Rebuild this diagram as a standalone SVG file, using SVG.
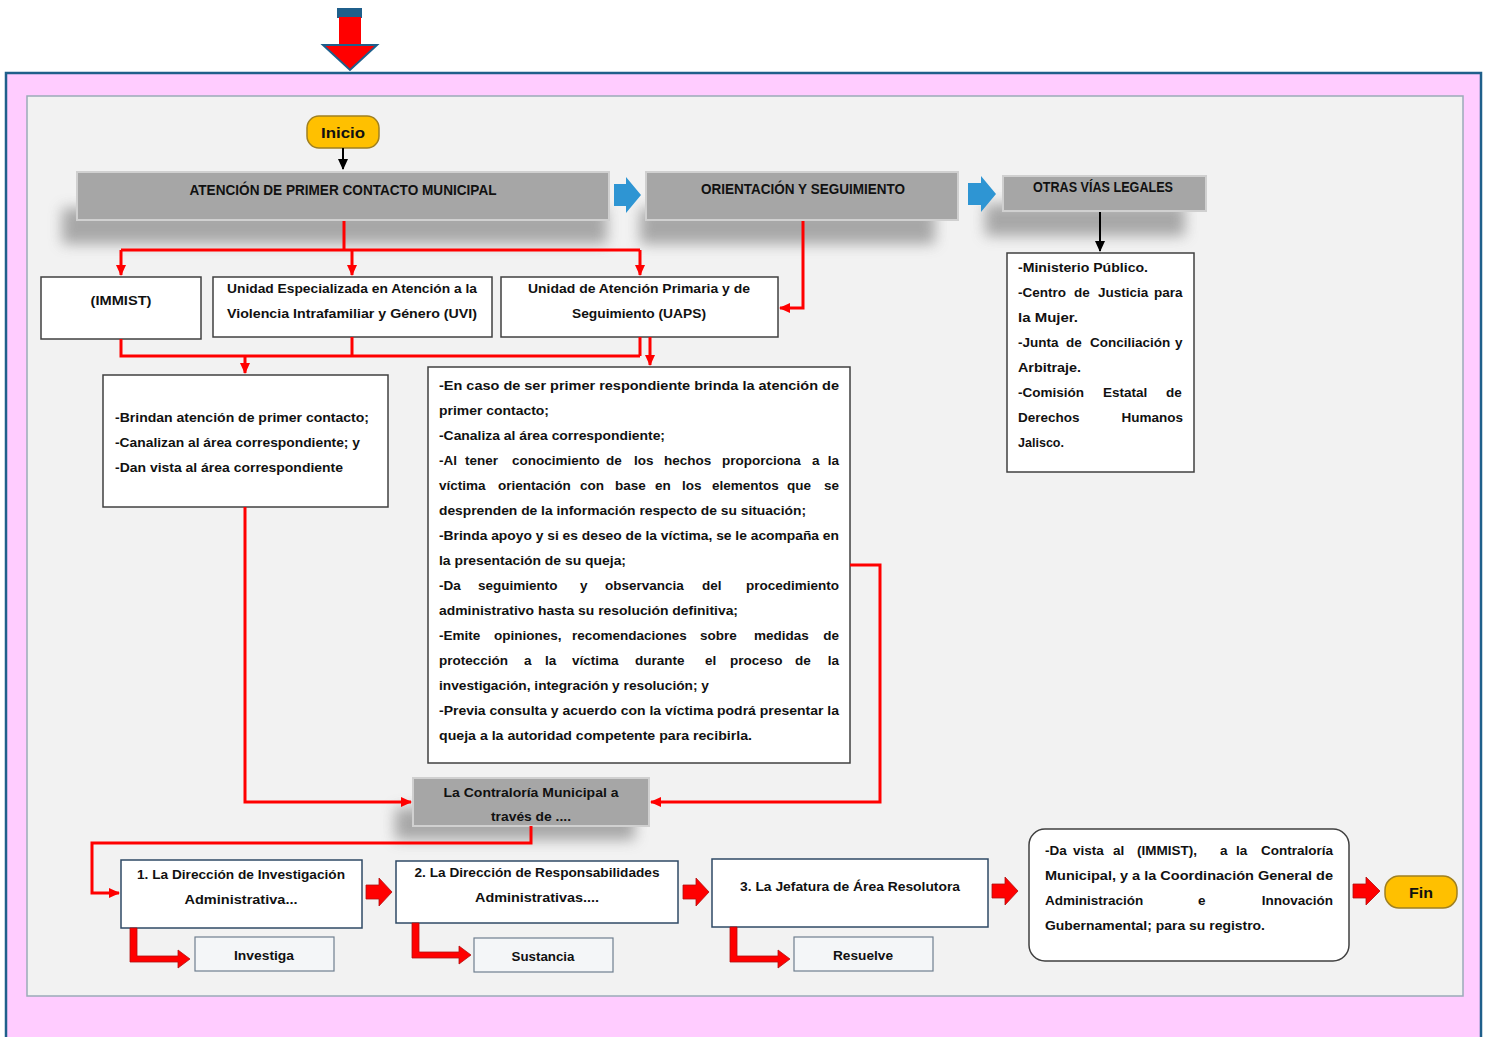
<svg xmlns="http://www.w3.org/2000/svg" width="1487" height="1037" viewBox="0 0 1487 1037">
<style>
.t{font-family:"Liberation Sans",Arial,sans-serif;font-weight:bold;font-size:13.5px;fill:#111}
.h{font-family:"Liberation Sans",Arial,sans-serif;font-weight:bold;font-size:14px;fill:#111}
.c{text-anchor:middle}
.box{fill:#fff;stroke:#404040;stroke-width:1.5}
.bbox{fill:#fff;stroke:#2F4A66;stroke-width:1.5}
.sub{fill:#F4F6F8;stroke:#6F7F8F;stroke-width:1.2}
.hdr{fill:#A6A6A6;stroke:#D0D0D0;stroke-width:2}
.red{fill:none;stroke:#FF0000;stroke-width:3}
.blk{fill:none;stroke:#000;stroke-width:2}
.term{fill:#FFC000;stroke:#A08020;stroke-width:1.5}
.bar{fill:#FF0000;stroke:#B01010;stroke-width:0.8}
.barr{fill:#2E95D3}
</style>
<defs>
<marker id="ra" markerUnits="userSpaceOnUse" markerWidth="12" markerHeight="10" refX="10" refY="5" orient="auto">
<path d="M0,0 L11,5 L0,10 Z" fill="#FF0000"/>
</marker>
<marker id="ba" markerUnits="userSpaceOnUse" markerWidth="12" markerHeight="10" refX="10" refY="5" orient="auto">
<path d="M0,0 L11,5 L0,10 Z" fill="#000"/>
</marker>
<filter id="blur" x="-20%" y="-50%" width="140%" height="200%">
<feGaussianBlur stdDeviation="7"/>
</filter>
</defs>

<!-- background frame -->
<rect x="0" y="0" width="1487" height="1037" fill="#fff"/>
<rect x="6" y="73" width="1475" height="990" fill="#FFCCFF" stroke="#1F5F8B" stroke-width="2.5"/>
<rect x="27" y="96" width="1436" height="900" fill="#F2F2F2" stroke="#9AAAB8" stroke-width="1.5"/>

<!-- top arrow -->
<g id="top-arrow">
<rect x="337" y="8" width="25" height="10" fill="#1F5F8B"/>
<rect x="339" y="17" width="22" height="29" fill="#FF0000"/>
<polygon points="323,45 377,45 350,70" fill="#FF0000" stroke="#1F5F8B" stroke-width="2"/>
</g>

<!-- shadows -->
<g id="shadows" filter="url(#blur)" fill="#888" opacity="0.7">
<rect x="62" y="208" width="545" height="36"/>
<rect x="640" y="208" width="295" height="36"/>
<rect x="985" y="204" width="200" height="32"/>
<rect x="395" y="808" width="240" height="32"/>
</g>

<g id="inicio">
<rect class="term" x="307" y="116" width="72" height="32" rx="12"/>
<text class="h c" x="343" y="138" textLength="44" lengthAdjust="spacingAndGlyphs">Inicio</text>
</g>

<g id="hdr-atencion">
<rect class="hdr" x="77" y="172" width="532" height="48"/>
<text class="h c" x="343" y="195" textLength="307" lengthAdjust="spacingAndGlyphs">ATENCIÓN DE PRIMER CONTACTO MUNICIPAL</text>
</g>
<g id="arrow-blue-1"><polygon class="barr" points="614,184 626,184 626,177 641,195 626,213 626,206 614,206"/></g>
<g id="hdr-orientacion">
<rect class="hdr" x="646" y="172" width="312" height="48"/>
<text class="h c" x="803" y="194" textLength="204" lengthAdjust="spacingAndGlyphs">ORIENTACIÓN Y SEGUIMIENTO</text>
</g>
<g id="arrow-blue-2"><polygon class="barr" points="968,183 981,183 981,176 996,194 981,212 981,205 968,205"/></g>
<g id="hdr-otras">
<rect class="hdr" x="1003" y="176" width="203" height="35"/>
<text class="h c" x="1103" y="192" textLength="140" lengthAdjust="spacingAndGlyphs">OTRAS VÍAS LEGALES</text>
</g>

<g id="immist">
<rect class="box" x="41" y="277" width="160" height="62"/>
<text class="t c" x="121" y="305" textLength="61" lengthAdjust="spacingAndGlyphs">(IMMIST)</text>
</g>
<g id="uvi">
<rect class="box" x="213" y="277" width="279" height="60"/>
<text class="t c" x="352" y="293" textLength="250" lengthAdjust="spacingAndGlyphs">Unidad Especializada en Atención a la</text>
<text class="t c" x="352" y="318" textLength="250" lengthAdjust="spacingAndGlyphs">Violencia Intrafamiliar y Género (UVI)</text>
</g>
<g id="uaps">
<rect class="box" x="501" y="277" width="277" height="60"/>
<text class="t c" x="639" y="293" textLength="222" lengthAdjust="spacingAndGlyphs">Unidad de Atención Primaria y de</text>
<text class="t c" x="639" y="318" textLength="134" lengthAdjust="spacingAndGlyphs">Seguimiento (UAPS)</text>
</g>

<g id="otras-list">
<rect class="box" x="1007" y="253" width="187" height="219"/>
<text class="t" x="1018" y="272" textLength="130" lengthAdjust="spacingAndGlyphs">-Ministerio Público.</text>
<text class="t" y="297"><tspan x="1018">-Centro</tspan><tspan x="1074">de</tspan><tspan x="1098">Justicia</tspan><tspan x="1154">para</tspan></text>
<text class="t" x="1018" y="322" textLength="60" lengthAdjust="spacingAndGlyphs">la Mujer.</text>
<text class="t" y="347"><tspan x="1018">-Junta</tspan><tspan x="1066">de</tspan><tspan x="1090">Conciliación</tspan><tspan x="1175">y</tspan></text>
<text class="t" x="1018" y="372" textLength="63" lengthAdjust="spacingAndGlyphs">Arbitraje.</text>
<text class="t" y="397"><tspan x="1018">-Comisión</tspan><tspan x="1103">Estatal</tspan><tspan x="1166">de</tspan></text>
<text class="t" y="422"><tspan x="1018">Derechos</tspan><tspan x="1183" text-anchor="end">Humanos</tspan></text>
<text class="t" x="1018" y="447" textLength="46" lengthAdjust="spacingAndGlyphs">Jalisco.</text>
</g>

<g id="brindan">
<rect class="box" x="103" y="375" width="285" height="132"/>
<text class="t" x="115" y="422" textLength="254" lengthAdjust="spacingAndGlyphs">-Brindan atención de primer contacto;</text>
<text class="t" x="115" y="447" textLength="245" lengthAdjust="spacingAndGlyphs">-Canalizan al área correspondiente; y</text>
<text class="t" x="115" y="472" textLength="228" lengthAdjust="spacingAndGlyphs">-Dan vista al área correspondiente</text>
</g>

<g id="funciones">
<rect class="box" x="428" y="367" width="422" height="396"/>
<text class="t" x="439" y="390" textLength="400" lengthAdjust="spacingAndGlyphs">-En caso de ser primer respondiente  brinda la atención de</text>
<text class="t" x="439" y="415" textLength="110" lengthAdjust="spacingAndGlyphs">primer contacto;</text>
<text class="t" x="439" y="440" textLength="226" lengthAdjust="spacingAndGlyphs">-Canaliza al área correspondiente;</text>
<text class="t" y="465"><tspan x="439">-Al</tspan><tspan x="465">tener</tspan><tspan x="512">conocimiento</tspan><tspan x="606">de</tspan><tspan x="634">los</tspan><tspan x="664">hechos</tspan><tspan x="722">proporciona</tspan><tspan x="812">a</tspan><tspan x="839" text-anchor="end">la</tspan></text>
<text class="t" y="490"><tspan x="439">víctima</tspan><tspan x="498">orientación</tspan><tspan x="580">con</tspan><tspan x="615">base</tspan><tspan x="655">en</tspan><tspan x="682">los</tspan><tspan x="712">elementos</tspan><tspan x="787">que</tspan><tspan x="839" text-anchor="end">se</tspan></text>
<text class="t" x="439" y="515" textLength="367" lengthAdjust="spacingAndGlyphs">desprenden de la información respecto de su situación;</text>
<text class="t" x="439" y="540" textLength="400" lengthAdjust="spacingAndGlyphs">-Brinda apoyo y si es deseo de la víctima, se le acompaña en</text>
<text class="t" x="439" y="565" textLength="187" lengthAdjust="spacingAndGlyphs">la presentación de su queja;</text>
<text class="t" y="590"><tspan x="439">-Da</tspan><tspan x="478">seguimiento</tspan><tspan x="580">y</tspan><tspan x="605">observancia</tspan><tspan x="702">del</tspan><tspan x="839" text-anchor="end">procedimiento</tspan></text>
<text class="t" x="439" y="615" textLength="299" lengthAdjust="spacingAndGlyphs">administrativo hasta su resolución definitiva;</text>
<text class="t" y="640"><tspan x="439">-Emite</tspan><tspan x="494">opiniones,</tspan><tspan x="572">recomendaciones</tspan><tspan x="700">sobre</tspan><tspan x="754">medidas</tspan><tspan x="839" text-anchor="end">de</tspan></text>
<text class="t" y="665"><tspan x="439">protección</tspan><tspan x="524">a</tspan><tspan x="545">la</tspan><tspan x="572">víctima</tspan><tspan x="635">durante</tspan><tspan x="705">el</tspan><tspan x="730">proceso</tspan><tspan x="795">de</tspan><tspan x="839" text-anchor="end">la</tspan></text>
<text class="t" x="439" y="690" textLength="270" lengthAdjust="spacingAndGlyphs">investigación, integración y resolución; y</text>
<text class="t" x="439" y="715" textLength="400" lengthAdjust="spacingAndGlyphs">-Previa consulta y acuerdo con la víctima podrá presentar la</text>
<text class="t" x="439" y="740" textLength="313" lengthAdjust="spacingAndGlyphs">queja a la autoridad competente para recibirla.</text>
</g>

<g id="contraloria">
<rect class="hdr" x="413" y="778" width="236" height="48"/>
<text class="t c" x="531" y="797" textLength="175" lengthAdjust="spacingAndGlyphs">La Contraloría Municipal a</text>
<text class="t c" x="531" y="821" textLength="80" lengthAdjust="spacingAndGlyphs">través de ....</text>
</g>

<g id="direccion-investigacion">
<rect class="bbox" x="121" y="860" width="241" height="68"/>
<text class="t c" x="241" y="879" textLength="208" lengthAdjust="spacingAndGlyphs">1. La Dirección de Investigación</text>
<text class="t c" x="241" y="904" textLength="113" lengthAdjust="spacingAndGlyphs">Administrativa...</text>
</g>
<g id="direccion-responsabilidades">
<rect class="bbox" x="396" y="861" width="282" height="62"/>
<text class="t c" x="537" y="877" textLength="245" lengthAdjust="spacingAndGlyphs">2. La Dirección de Responsabilidades</text>
<text class="t c" x="537" y="902" textLength="124" lengthAdjust="spacingAndGlyphs">Administrativas....</text>
</g>
<g id="jefatura">
<rect class="bbox" x="712" y="859" width="276" height="68"/>
<text class="t c" x="850" y="891" textLength="220" lengthAdjust="spacingAndGlyphs">3. La Jefatura de Área Resolutora</text>
</g>
<g id="da-vista">
<rect class="box" x="1029" y="829" width="320" height="132" rx="16"/>
<text class="t" y="855"><tspan x="1045">-Da</tspan><tspan x="1073">vista</tspan><tspan x="1113">al</tspan><tspan x="1137">(IMMIST),</tspan><tspan x="1220">a</tspan><tspan x="1236">la</tspan><tspan x="1333" text-anchor="end">Contraloría</tspan></text>
<text class="t" x="1045" y="880" textLength="288" lengthAdjust="spacingAndGlyphs">Municipal, y a la Coordinación General de</text>
<text class="t" y="905"><tspan x="1045">Administración</tspan><tspan x="1198">e</tspan><tspan x="1333" text-anchor="end">Innovación</tspan></text>
<text class="t" x="1045" y="930" textLength="220" lengthAdjust="spacingAndGlyphs">Gubernamental; para su registro.</text>
</g>
<g id="fin">
<rect class="term" x="1385" y="876" width="72" height="32" rx="14"/>
<text class="h c" x="1421" y="898" textLength="24" lengthAdjust="spacingAndGlyphs">Fin</text>
</g>

<g id="investiga">
<rect class="sub" x="195" y="937" width="139" height="34"/>
<text class="t c" x="264" y="960" textLength="60" lengthAdjust="spacingAndGlyphs">Investiga</text>
</g>
<g id="sustancia">
<rect class="sub" x="474" y="938" width="139" height="34"/>
<text class="t c" x="543" y="961" textLength="63" lengthAdjust="spacingAndGlyphs">Sustancia</text>
</g>
<g id="resuelve">
<rect class="sub" x="794" y="937" width="139" height="34"/>
<text class="t c" x="863" y="960" textLength="60" lengthAdjust="spacingAndGlyphs">Resuelve</text>
</g>

<g id="connectors">
<path class="blk" d="M343,148 V169" marker-end="url(#ba)"/>
<path class="blk" d="M1100,212 V251" marker-end="url(#ba)"/>
<path class="red" d="M344,221 V250 M121,250 H640"/>
<path class="red" d="M121,250 V275" marker-end="url(#ra)"/>
<path class="red" d="M352,250 V275" marker-end="url(#ra)"/>
<path class="red" d="M640,250 V275" marker-end="url(#ra)"/>
<path class="red" d="M803,221 V308 H780" marker-end="url(#ra)"/>
<path class="red" d="M121,339 V356 H640 M352,337 V356 M640,337 V356"/>
<path class="red" d="M245,356 V373" marker-end="url(#ra)"/>
<path class="red" d="M650,337 V365" marker-end="url(#ra)"/>
<path class="red" d="M245,507 V802 H411" marker-end="url(#ra)"/>
<path class="red" d="M850,565 H880 V802 H651" marker-end="url(#ra)"/>
<path class="red" d="M531,826 V843 H92 V893 H119" marker-end="url(#ra)"/>
<polygon class="bar" points="366,885 379,885 379,878 392,892 379,906 379,899 366,899"/>
<polygon class="bar" points="683,885 696,885 696,878 709,892 696,906 696,899 683,899"/>
<polygon class="bar" points="992,884 1005,884 1005,877 1018,891 1005,905 1005,898 992,898"/>
<polygon class="bar" points="1353,884 1366,884 1366,877 1380,891 1366,905 1366,898 1353,898"/>
<polygon class="bar" points="130,928 137,928 137,956 178,956 178,950 190,959 178,968 178,962 130,962"/>
<polygon class="bar" points="412,923 419,923 419,952 459,952 459,946 471,955 459,964 459,958 412,958"/>
<polygon class="bar" points="730,927 737,927 737,956 778,956 778,950 790,959 778,968 778,962 730,962"/>
</g>
</svg>
